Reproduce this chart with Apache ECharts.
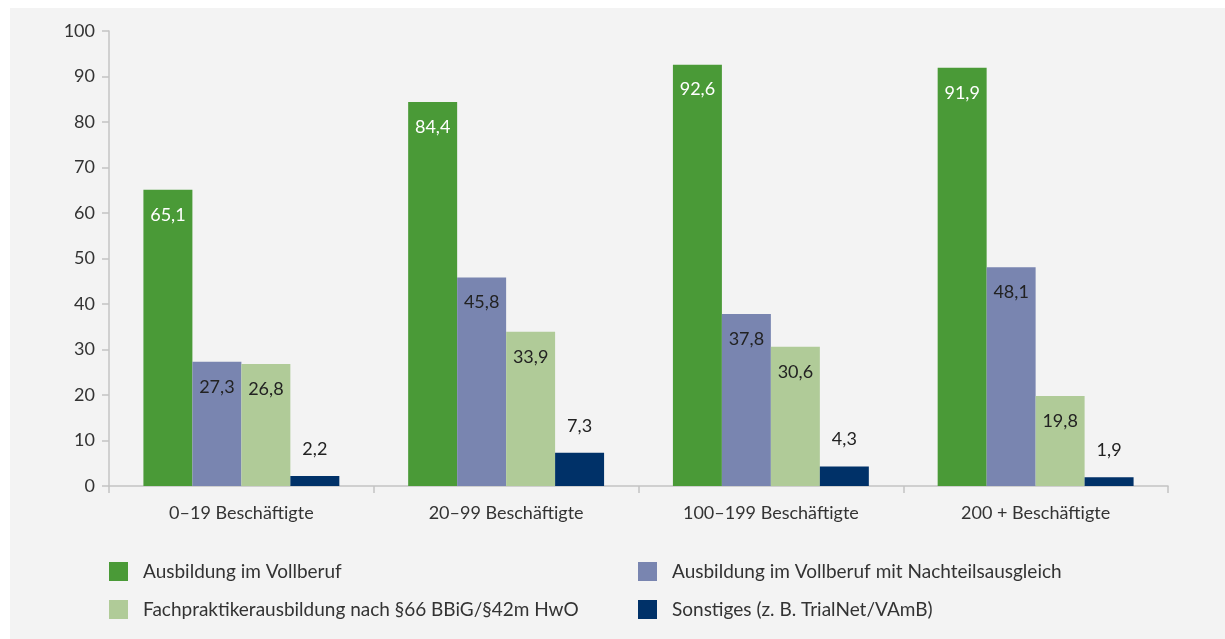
<!DOCTYPE html>
<html>
<head>
<meta charset="utf-8">
<script src="https://cdn.jsdelivr.net/npm/echarts@6/dist/echarts.min.js"></script>
<style>
html,body{margin:0;padding:0;background:#ffffff;}
#chart{width:1225px;height:639px;}
</style>
</head>
<body>
<div id="chart"></div>
<script>
var categories = ['0–19 Beschäftigte', '20–99 Beschäftigte', '100–199 Beschäftigte', '200 + Beschäftigte'];
var seriesNames = [
  'Ausbildung im Vollberuf',
  'Ausbildung im Vollberuf mit Nachteilsausgleich',
  'Fachpraktikerausbildung nach §66 BBiG/§42m HwO',
  'Sonstiges (z. B. TrialNet/VAmB)'
];
var vollberuf = [65.1, 84.4, 92.6, 91.9];
var nachteilsausgleich = [27.3, 45.8, 37.8, 48.1];
var fachpraktiker = [26.8, 33.9, 30.6, 19.8];
var sonstiges = [2.2, 7.3, 4.3, 1.9];
var yTicks = [0, 10, 20, 30, 40, 50, 60, 70, 80, 90, 100];

var colors = ['#4a9a37', '#7985b0', '#b0cb98', '#003168'];
var FONT = 'Lato, "Noto Sans", sans-serif';
var fmt = function (p) { return p.value.toFixed(1).replace('.', ','); };

function mkSeries(name, data, color, labelPos, labelColor, dist) {
  return {
    name: name, type: 'bar', data: data, barGap: '0%', barCategoryGap: '26%',
    itemStyle: { color: color },
    label: { show: true, position: labelPos, distance: dist, color: labelColor,
      fontFamily: FONT, fontSize: 18, formatter: fmt },
    emphasis: { disabled: true }
  };
}

var chart = echarts.init(document.getElementById('chart'));
var legendBase = {
  itemWidth: 19, itemHeight: 19, icon: 'rect',
  textStyle: { fontFamily: FONT, fontSize: 19, color: '#333', padding: [0, 0, 0, 10] },
  selectedMode: false
};
function leg(name, left, top) {
  return Object.assign({}, legendBase, { data: [name], left: left, top: top });
}
chart.setOption({
  animation: false,
  graphic: [{ type: 'rect', left: 10, top: 8, shape: { width: 1215, height: 631 },
    style: { fill: '#f3f3f3' }, z: -10 }],
  grid: { left: 109, right: 57, top: 31, bottom: 153 },
  legend: [
    leg(seriesNames[0], 104, 557),
    leg(seriesNames[1], 633, 557),
    leg(seriesNames[2], 104, 595),
    leg(seriesNames[3], 633, 595)
  ],
  xAxis: {
    type: 'category', data: categories,
    axisLine: { lineStyle: { color: '#c4c4c4', width: 1.5 } },
    axisTick: { show: true, length: 7, lineStyle: { color: '#c4c4c4', width: 1.5 } },
    axisLabel: { fontFamily: FONT, fontSize: 18, color: '#333', margin: 18 }
  },
  yAxis: {
    type: 'value', min: yTicks[0], max: yTicks[yTicks.length - 1], interval: 10,
    axisLine: { show: true, lineStyle: { color: '#c4c4c4', width: 1.5 } },
    axisTick: { show: true, length: 7, lineStyle: { color: '#c4c4c4', width: 1.5 } },
    splitLine: { show: false },
    axisLabel: { fontFamily: FONT, fontSize: 18, color: '#333', margin: 14 }
  },
  series: [
    mkSeries(seriesNames[0], vollberuf, colors[0], 'insideTop', '#ffffff', 16),
    mkSeries(seriesNames[1], nachteilsausgleich, colors[1], 'insideTop', '#222', 16),
    mkSeries(seriesNames[2], fachpraktiker, colors[2], 'insideTop', '#222', 16),
    mkSeries(seriesNames[3], sonstiges, colors[3], 'top', '#222', 18)
  ]
});
</script>
</body>
</html>
